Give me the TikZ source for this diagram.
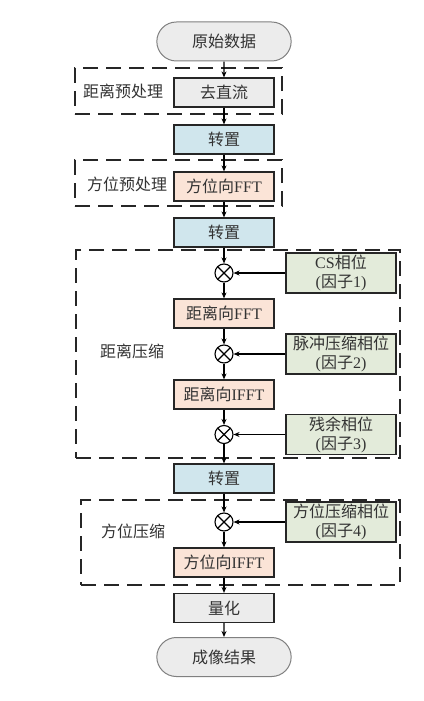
\documentclass[tikz,border=0pt]{standalone}
\usepackage{fontspec}
\setmainfont{Liberation Serif}
\newfontfamily\cjk{Noto Sans CJK SC}
\usetikzlibrary{arrows.meta,shapes.misc}
\newcommand\zh[1]{{\cjk #1}}
\definecolor{gfill}{HTML}{ECECEC}
\definecolor{bfill}{HTML}{D0E6ED}
\definecolor{pfill}{HTML}{FBE4D7}
\definecolor{vfill}{HTML}{E3EBDA}
\definecolor{txt}{HTML}{333333}
\begin{document}
\begin{tikzpicture}[x=1pt,y=-1pt,
  every node/.style={text=txt,font=\fontsize{16}{19}\selectfont},
  box/.style={draw=black!85,line width=1.2pt,minimum width=100pt,minimum height=29pt,inner sep=1pt},
  term/.style={draw=black!50,line width=1pt,fill=gfill,rounded rectangle,minimum width=141pt,minimum height=39pt},
  side/.style={draw=black!85,line width=1.2pt,fill=vfill,minimum width=110pt,minimum height=40pt,align=center,inner sep=0pt},
  frame/.style={draw=black!85,line width=1.3pt,dash pattern=on 15pt off 8pt},
  otimes/.style={circle,draw=black,line width=1.1pt,minimum size=18pt,inner sep=0pt,
    path picture={\draw[line width=1.1pt] (path picture bounding box.north west) -- (path picture bounding box.south east)
      (path picture bounding box.north east) -- (path picture bounding box.south west);}},
  lbl/.style={inner sep=0pt},
  arr/.style={-{Stealth[length=6pt,width=5pt]},line width=1.1pt,black}]
\useasboundingbox (0,0) rectangle (423,701);
% frames
\node[frame,minimum width=207pt,minimum height=46pt] (f1) at (178.5,91) {};
\node[frame,minimum width=207pt,minimum height=46pt] (f2) at (178.5,183) {};
\node[frame,minimum width=324pt,minimum height=208pt] (f3) at (238,354) {};
\node[frame,minimum width=319pt,minimum height=85pt] (f4) at (240.5,542.5) {};
% labels
\node[lbl] (l1) at (123,91) {\zh{距离预处理}};
\node[lbl] (l2) at (127,184) {\zh{方位预处理}};
\node[lbl] (l3) at (132,351) {\zh{距离压缩}};
\node[lbl] (l4) at (133,531) {\zh{方位压缩}};
% main column
\node[term] (start) at (224,41.5) {\zh{原始数据}};
\node[box,fill=gfill] (qzl) at (224,92.5) {\zh{去直流}};
\node[box,fill=bfill] (zz1) at (224,139.5) {\zh{转置}};
\node[box,fill=pfill] (fwfft) at (224,186.5) {\zh{方位向}FFT};
\node[box,fill=bfill] (zz2) at (224,232.5) {\zh{转置}};
\node[otimes] (ot1) at (224,273) {};
\node[box,fill=pfill] (jlfft) at (224,313.5) {\zh{距离向}FFT};
\node[otimes] (ot2) at (224,354) {};
\node[box,fill=pfill] (jlifft) at (224,394.5) {\zh{距离向}IFFT};
\node[otimes] (ot3) at (224,434.5) {};
\node[box,fill=bfill] (zz3) at (224,478.5) {\zh{转置}};
\node[otimes] (ot4) at (224,522) {};
\node[box,fill=pfill] (fwifft) at (224,562.5) {\zh{方位向}IFFT};
\node[box,fill=gfill] (lh) at (224,608) {\zh{量化}};
\node[term] (end) at (224,657) {\zh{成像结果}};
% side boxes
\node[side] (cs) at (341,273) {CS\zh{相位}\\(\zh{因子}1)};
\node[side] (mc) at (341,354) {\zh{脉冲压缩相位}\\(\zh{因子}2)};
\node[side] (cy) at (341,434.5) {\zh{残余相位}\\(\zh{因子}3)};
\node[side] (fwc) at (341,522) {\zh{方位压缩相位}\\(\zh{因子}4)};
% arrows
\draw[arr] (start) -- (qzl);
\draw[arr] (qzl) -- (zz1);
\draw[arr] (zz1) -- (fwfft);
\draw[arr] (fwfft) -- (zz2);
\draw[arr] (zz2) -- (ot1);
\draw[arr] (ot1) -- (jlfft);
\draw[arr] (jlfft) -- (ot2);
\draw[arr] (ot2) -- (jlifft);
\draw[arr] (jlifft) -- (ot3);
\draw[arr] (ot3) -- (zz3);
\draw[arr] (zz3) -- (ot4);
\draw[arr] (ot4) -- (fwifft);
\draw[arr] (fwifft) -- (lh);
\draw[arr] (lh) -- (end);
\draw[arr] (cs) -- (ot1);
\draw[arr] (mc) -- (ot2);
\draw[arr] (cy) -- (ot3);
\draw[arr] (fwc) -- (ot4);
\end{tikzpicture}
\end{document}
